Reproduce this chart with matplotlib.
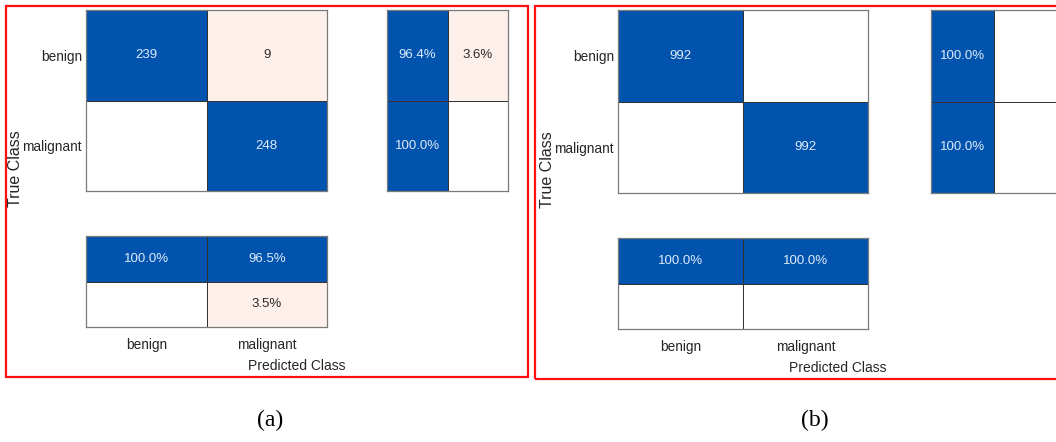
import numpy as np
import matplotlib
matplotlib.use("Agg")
import matplotlib.pyplot as plt
from matplotlib.colors import ListedColormap
from matplotlib.patches import Rectangle

# ---- data -------------------------------------------------------------
classes = ["benign", "malignant"]

counts_a = [[239, 9], [0, 248]]
row_pct_a = [[96.4, 3.6], [100.0, 0.0]]   # per true class: correct, incorrect
col_pct_a = [[100.0, 96.5], [0.0, 3.5]]   # per predicted class: correct / incorrect

counts_b = [[992, 0], [0, 992]]
row_pct_b = [[100.0, 0.0], [100.0, 0.0]]
col_pct_b = [[100.0, 100.0], [0.0, 0.0]]

panel_tags = ["(a)", "(b)"]

# ---- style --------------------------------------------------------------
W, H = 1056, 442
BLUE = "#0253AD"
PINK = "#FDEFEA"
TXT_ON_BLUE = "#DDEBFA"
TXT_ON_PINK = "#2B2B2B"
cmap = ListedColormap(["white", PINK, BLUE])
SANS = ["Liberation Sans", "DejaVu Sans"]

fig = plt.figure(figsize=(W / 100, H / 100), dpi=100)


def px_axes(x0, y0, x1, y1):
    return fig.add_axes([x0 / W, 1 - y1 / H, (x1 - x0) / W, (y1 - y0) / H])


def draw_block(ax, values, good_mask, fmt):
    vals = np.asarray(values, dtype=float)
    codes = np.where(vals == 0, 0, np.where(good_mask, 2, 1))
    nr, nc = vals.shape
    ax.pcolormesh(np.arange(nc + 1), np.arange(nr + 1), codes, cmap=cmap,
                  vmin=0, vmax=2, edgecolors="#333333", linewidth=0.6)
    ax.set_xlim(0, nc)
    ax.set_ylim(nr, 0)
    for i in range(nr):
        for j in range(nc):
            if vals[i, j] == 0:
                continue
            color = TXT_ON_BLUE if codes[i, j] == 2 else TXT_ON_PINK
            ax.text(j + 0.5, i + 0.5, fmt(vals[i, j]), ha="center", va="center",
                    fontsize=9.5, color=color, family=SANS)
    ax.set_xticks([])
    ax.set_yticks([])
    for s in ax.spines.values():
        s.set_color("#7a7a7a")
        s.set_linewidth(0.9)


def draw_panel(layout, counts, row_pct, col_pct, tag, box, tag_x):
    mx0, mx1, rx0, rx1, top, mid_bot, bt, bb = layout

    # counts
    ax = px_axes(mx0, top, mx1, mid_bot)
    eye = np.eye(2, dtype=bool)
    draw_block(ax, counts, eye, lambda v: f"{int(v)}")
    ax.set_yticks([0.5, 1.5])
    ax.set_yticklabels(classes, family=SANS, fontsize=9.8, color="#262626")
    ax.tick_params(axis="y", length=0, pad=3)

    # row summary
    axr = px_axes(rx0, top, rx1, mid_bot)
    good_r = np.array([[True, False], [True, False]])
    draw_block(axr, row_pct, good_r, lambda v: f"{v:.1f}%")

    # column summary
    axb = px_axes(mx0, bt, mx1, bb)
    good_c = np.array([[True, True], [False, False]])
    draw_block(axb, col_pct, good_c, lambda v: f"{v:.1f}%")
    axb.set_xticks([0.5, 1.5])
    axb.set_xticklabels(classes, family=SANS, fontsize=9.8, color="#262626")
    axb.tick_params(axis="x", length=0, pad=8)

    # axis titles
    fig.text(((mx0 + rx1) / 2) / W, 1 - (bb + 39) / H, "Predicted Class",
             ha="center", va="center", family=SANS, fontsize=10, color="#262626")
    fig.text((mx0 - 70) / W, 1 - ((top + bb) / 2) / H, "True Class",
             ha="center", va="center", rotation=90, family=SANS, fontsize=11.5,
             color="#262626")

    # frame and tag
    bx0, by0, bx1, by1 = box
    fig.patches.append(Rectangle((bx0 / W, 1 - by1 / H), (bx1 - bx0) / W,
                                 (by1 - by0) / H, transform=fig.transFigure,
                                 fill=False, edgecolor="#FF1010", linewidth=1.6))
    fig.text(tag_x / W, 1 - 420 / H, tag,
             ha="center", va="center", family=["Liberation Serif", "DejaVu Serif"],
             fontsize=17, color="black")


draw_panel((86, 327, 387, 508, 10, 191, 236, 327), counts_a, row_pct_a, col_pct_a,
           panel_tags[0], (6, 6, 528, 377), 270)
draw_panel((618, 868, 931, 1057, 10, 193, 238, 329), counts_b, row_pct_b, col_pct_b,
           panel_tags[1], (535, 6, 1095, 379), 815)

fig.savefig("out.png", dpi=100)
